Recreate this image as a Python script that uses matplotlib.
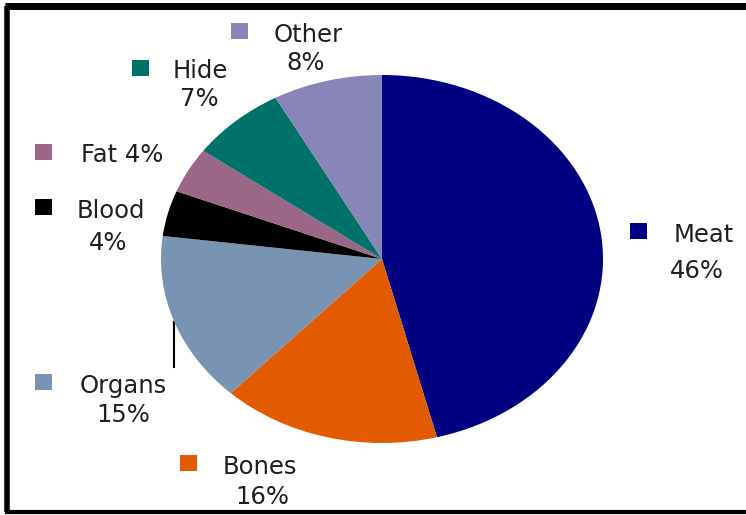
import matplotlib
matplotlib.use("Agg")
import matplotlib.pyplot as plt
from matplotlib.patches import Rectangle

categories = ["Meat", "Bones", "Organs", "Blood", "Fat", "Hide", "Other"]
values = [46, 16, 15, 4, 4, 7, 8]
colors = ["#000080", "#E35B00", "#7994B3", "#000000", "#9A6787", "#00726A", "#8885B8"]
pct_texts = ["46%", "16%", "15%", "4%", "4%", "7%", "8%"]

W, H = 746, 515
fig = plt.figure(figsize=(W / 100, H / 100), dpi=100)
fig.patch.set_facecolor("white")

# overlay axes in pixel coordinates
bg = fig.add_axes([0, 0, 1, 1])
bg.set_xlim(0, W)
bg.set_ylim(H, 0)
bg.axis("off")

# border
bg.plot([7, 7], [6, 512], color="black", lw=4, solid_capstyle="butt")
bg.plot([5, W], [6, 6], color="black", lw=5, solid_capstyle="butt")
bg.plot([5, W], [511.5, 511.5], color="black", lw=3, solid_capstyle="butt")

# pie axes (elliptical)
cx, cy, rx, ry = 382, 259, 221, 184
ax = fig.add_axes([(cx - rx) / W, 1 - (cy + ry) / H, 2 * rx / W, 2 * ry / H])
ax.pie(values, colors=colors, startangle=90, counterclock=False,
       wedgeprops=dict(linewidth=0))
ax.set_aspect("auto")
ax.set_xlim(-1, 1)
ax.set_ylim(-1, 1)
ax.axis("off")

# label layout: square (x, y), name centre, pct centre (None = same line)
layout = {
    "Meat": ((630, 223), (704, 233), (697, 269)),
    "Bones": ((180, 455), (260, 465), (262, 494)),
    "Organs": ((35, 374), (123, 384), (123, 412)),
    "Blood": ((35, 199), (111, 209), (108, 240)),
    "Fat": ((35, 144), (122, 152), None),
    "Hide": ((132, 60), (200, 68), (199, 97)),
    "Other": ((231, 23), (308, 32), (306, 61)),
}
text_color = "#1e1e24"
fs = 17.5
for cat, col, pct in zip(categories, colors, pct_texts):
    (sx, sy), (nx, ny), pp = layout[cat]
    bg.add_patch(Rectangle((sx, sy), 17, 16, facecolor=col, edgecolor="none"))
    name = cat if pp is not None else f"{cat} {pct}"
    bg.text(nx, ny, name, ha="center", va="center_baseline", fontsize=fs,
            family="DejaVu Sans", color=text_color)
    if pp is not None:
        bg.text(pp[0], pp[1], pct, ha="center", va="center_baseline", fontsize=fs,
                family="DejaVu Sans", color=text_color)

# leader line for Organs
bg.plot([174, 174], [322, 367], color="black", lw=1.5)

fig.savefig("out.png", dpi=100, facecolor="white")
